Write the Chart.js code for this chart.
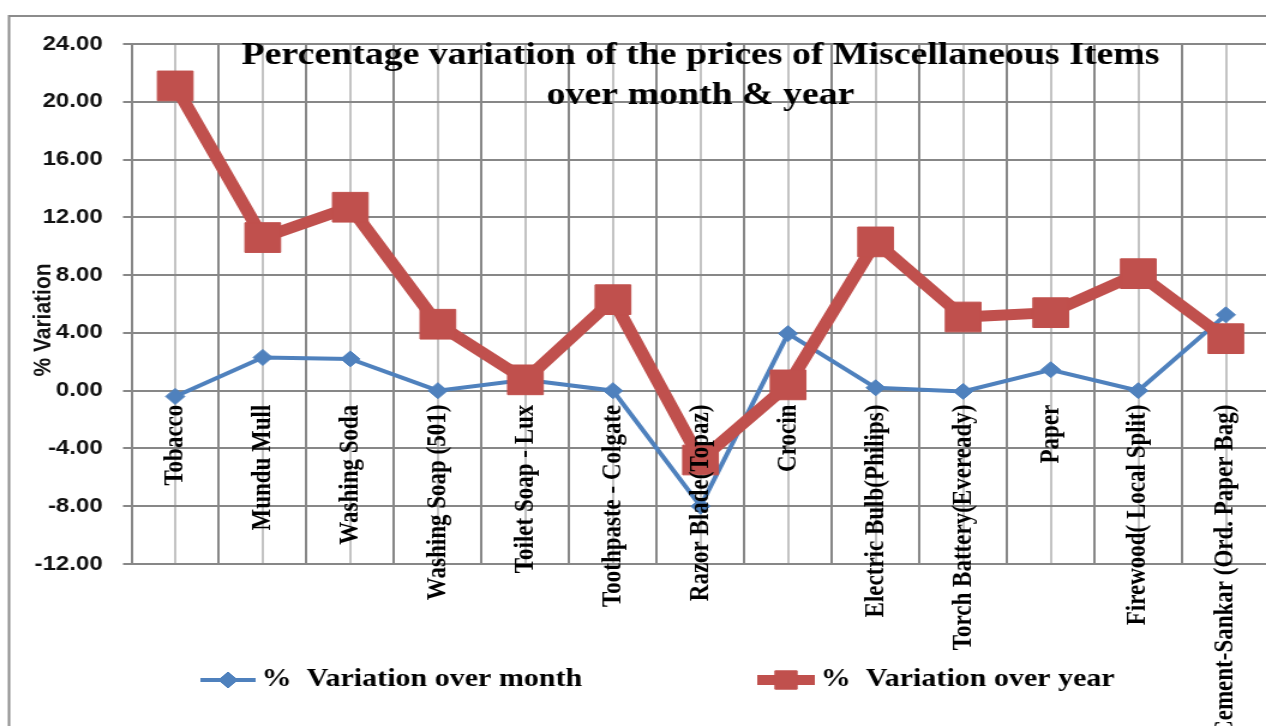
<!DOCTYPE html>
<html>
<head>
<meta charset="utf-8">
<script src="https://cdn.jsdelivr.net/npm/chart.js@4.4.0/dist/chart.umd.min.js"></script>
<style>
  body { margin: 0; background: #fff; overflow: hidden; }
  /* the source picture is stretched sideways by about 1.2, so the canvas is too */
  #myChart { width: 1296px; height: 726px; }
</style>
<script>
// data
var items = ['Tobacco', 'Mundu Mull', 'Washing Soda', 'Washing Soap (501)', 'Toilet Soap - Lux',
  'Toothpaste - Colgate', 'Razor Blade(Topaz)', 'Crocin', 'Electric Bulb(Philips)',
  'Torch Battery(Eveready)', 'Paper', 'Firewood( Local Split)', 'Cement-Sankar (Ord. Paper Bag)'];
var overMonth = [-0.4, 2.3, 2.2, 0.0, 0.75, 0.0, -8.0, 3.95, 0.2, -0.05, 1.45, 0.0, 5.25];
var overYear = [21.1, 10.6, 12.7, 4.6, 0.75, 6.3, -4.8, 0.4, 10.3, 5.1, 5.4, 8.1, 3.6];
var seriesNames = ['%  Variation over month', '%  Variation over year'];
var yMin = -12, yMax = 24, yStep = 4;
</script>
</head>
<body>
<canvas id="myChart" width="1080" height="726" style="width:1296px;height:726px"></canvas>
<script>
var blue = '#4f81bd';
var red = '#c0504d';
var darkGrid = '#878787';
var lightGrid = '#c3c3c3';

// frame, axis title and legend
var extras = {
  id: 'extras',
  beforeDraw: function (chart) {
    var ctx = chart.ctx;
    ctx.save();
    ctx.strokeStyle = '#8c8c8c';
    ctx.lineWidth = 2;
    ctx.strokeRect(7.5, 16, 1400, 900);
    ctx.restore();
  },
  afterDraw: function (chart) {
    var ctx = chart.ctx;
    ctx.save();
    // y axis title
    ctx.translate(36, 320);
    ctx.rotate(-Math.PI / 2);
    ctx.fillStyle = '#111';
    ctx.font = 'bold 21px "Liberation Sans"';
    ctx.textAlign = 'center';
    ctx.textBaseline = 'middle';
    ctx.fillText('% Variation', 0, 0);
    ctx.restore();

    var y = 680;
    var entries = [
      { x: 167, w: 46, color: blue, lw: 4, style: 'rectRot', r: 8, text: seriesNames[0] },
      { x: 631, w: 48, color: red, lw: 10, style: 'rect', r: 13, text: seriesNames[1] }
    ];
    ctx.save();
    entries.forEach(function (e) {
      ctx.strokeStyle = e.color;
      ctx.fillStyle = e.color;
      ctx.lineWidth = e.lw;
      ctx.beginPath();
      ctx.moveTo(e.x, y);
      ctx.lineTo(e.x + e.w, y);
      ctx.stroke();
      ctx.lineWidth = 1;
      Chart.helpers.drawPoint(ctx, { pointStyle: e.style, radius: e.r, rotation: 0, borderWidth: 1 }, e.x + e.w / 2, y);
      ctx.fillStyle = '#000';
      ctx.font = 'bold 25px "Liberation Serif"';
      ctx.textBaseline = 'middle';
      ctx.textAlign = 'left';
      ctx.fillText(e.text, e.x + e.w + 5, y);
    });
    ctx.restore();
  }
};

var ctx = document.getElementById('myChart').getContext('2d');
var chart = new Chart(ctx, {
  type: 'line',
  data: {
    labels: items,
    datasets: [{
      label: seriesNames[0],
      data: overMonth,
      borderColor: blue,
      backgroundColor: blue,
      borderWidth: 4,
      pointStyle: 'rectRot',
      pointRadius: 8,
      pointBorderWidth: 1,
      tension: 0,
      order: 2
    }, {
      label: seriesNames[1],
      data: overYear,
      borderColor: red,
      backgroundColor: red,
      borderWidth: 11,
      pointStyle: 'rect',
      pointRadius: 21,
      pointBorderWidth: 1,
      tension: 0,
      order: 1
    }]
  },
  options: {
    responsive: false,
    animation: false,
    devicePixelRatio: 1,
    layout: { padding: { left: 7.5, top: 0, right: 22, bottom: 162 } },
    plugins: {
      legend: { display: false },
      tooltip: { enabled: false },
      title: {
        display: true,
        fullSize: false,
        text: ['Percentage variation of the prices of Miscellaneous Items', 'over month & year'],
        color: '#000',
        font: { family: 'Liberation Serif', size: 31.5, weight: 'bold', lineHeight: 1.27 },
        padding: { top: 36, bottom: -72 }
      }
    },
    scales: {
      x: {
        type: 'category',
        position: { y: 0 },
        offset: true,
        grid: { offset: true, color: darkGrid, lineWidth: 2, drawTicks: false },
        border: { display: false },
        ticks: {
          autoSkip: false,
          minRotation: 90,
          maxRotation: 90,
          padding: 14,
          z: 1,
          color: '#000',
          font: { family: 'Liberation Serif', size: 23, weight: 'bold' }
        }
      },
      x2: {
        type: 'category',
        labels: items,
        position: { y: 0 },
        offset: true,
        grid: { offset: false, color: lightGrid, lineWidth: 2, drawTicks: false },
        border: { display: false },
        ticks: { display: false }
      },
      y: {
        min: yMin,
        max: yMax,
        afterFit: function (scale) { scale.width = 102; },
        grid: { color: darkGrid, lineWidth: 2, tickLength: 7 },
        border: { color: darkGrid, width: 2 },
        ticks: {
          stepSize: yStep,
          padding: 17,
          color: '#111',
          font: { family: 'Liberation Sans', size: 20, weight: 'bold' },
          callback: function (v) { return v.toFixed(2); }
        }
      }
    }
  },
  plugins: [extras]
});
</script>
</body>
</html>
